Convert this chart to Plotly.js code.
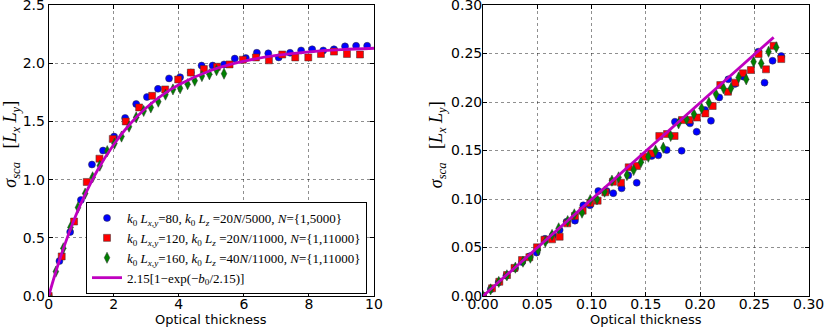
<!DOCTYPE html>
<html>
<head>
<meta charset="utf-8">
<script src="https://cdn.plot.ly/plotly-3.0.1.min.js"></script>
<style>
  body { margin: 0; background: #fff; }
  #plot-container { width: 824px; height: 327px; }
</style>
</head>
<body>
<div id="plot-container"></div>
<script>
// left panel: full range
const blueX = [0, 0.33, 0.66, 0.99, 1.33, 1.67, 2.01, 2.35, 2.69, 3.02, 3.36, 3.70, 4.04, 4.37, 4.70, 5.04, 5.39, 5.72, 6.06, 6.40, 6.75, 7.07, 7.42, 7.76, 8.10, 8.44, 8.77, 9.11, 9.45, 9.79];
const blueY = [0, 0.30, 0.55, 0.825, 1.13, 1.25, 1.37, 1.53, 1.65, 1.71, 1.78, 1.87, 1.88, 1.92, 1.98, 1.98, 1.99, 2.04, 2.045, 2.09, 2.085, 2.05, 2.09, 2.11, 2.12, 2.11, 2.12, 2.145, 2.15, 2.15];

const redX = [0, 0.40, 0.78, 1.17, 1.56, 1.97, 2.37, 2.78, 3.18, 3.58, 3.98, 4.37, 4.77, 5.17, 5.56, 5.97, 6.37, 6.77, 7.18, 7.58, 7.98, 8.37, 8.77, 9.17, 9.57];
const redY = [0, 0.34, 0.64, 0.98, 1.18, 1.35, 1.50, 1.62, 1.72, 1.775, 1.86, 1.92, 1.95, 1.97, 1.99, 2.03, 2.05, 2.025, 2.075, 2.05, 2.05, 2.08, 2.10, 2.08, 2.075];

const greenX = [0, 0.22, 0.45, 0.67, 0.90, 1.12, 1.35, 1.57, 1.80, 2.02, 2.24, 2.47, 2.69, 2.92, 3.14, 3.37, 3.59, 3.82, 4.04, 4.27, 4.49, 4.71, 4.94, 5.16, 5.39];
const greenY = [0, 0.21, 0.41, 0.59, 0.76, 0.88, 1.02, 1.12, 1.245, 1.31, 1.37, 1.455, 1.535, 1.59, 1.62, 1.67, 1.73, 1.775, 1.785, 1.82, 1.85, 1.89, 1.905, 1.94, 1.91];

const fitX = [0, 0.25, 0.5, 0.75, 1, 1.5, 2, 2.5, 3, 3.5, 4, 5, 6, 7, 8, 9, 10];
const fitY = [0, 0.236, 0.446, 0.633, 0.800, 1.080, 1.302, 1.478, 1.617, 1.728, 1.815, 1.940, 2.018, 2.067, 2.098, 2.117, 2.129];

// right panel: zoom on small optical thickness
const blueX2 = [0, 0.0072, 0.0144, 0.0215, 0.0295, 0.036, 0.043, 0.0494, 0.0571, 0.0642, 0.0706, 0.077, 0.0847, 0.0924, 0.0986, 0.1062, 0.1139, 0.12, 0.1277, 0.1339, 0.1416, 0.1554, 0.1615, 0.1692, 0.1768, 0.183, 0.1907, 0.1968, 0.2045, 0.21, 0.2177, 0.226, 0.232, 0.2401, 0.2536, 0.2594, 0.2668, 0.2748];
const blueY2 = [0, 0.007, 0.0143, 0.021, 0.0285, 0.035, 0.041, 0.0447, 0.059, 0.0625, 0.068, 0.0766, 0.0777, 0.0935, 0.0935, 0.1082, 0.1082, 0.106, 0.111, 0.1244, 0.1168, 0.1443, 0.145, 0.1505, 0.1797, 0.1498, 0.178, 0.1694, 0.1918, 0.1807, 0.2048, 0.2234, 0.2186, 0.2261, 0.2519, 0.22, 0.2426, 0.2474];

const redX2 = [0, 0.0083, 0.015, 0.0221, 0.029, 0.0359, 0.0427, 0.0497, 0.0566, 0.0636, 0.0706, 0.0776, 0.0847, 0.0918, 0.0988, 0.1056, 0.1127, 0.1197, 0.1271, 0.1342, 0.1418, 0.148, 0.155, 0.1624, 0.1695, 0.1765, 0.1833, 0.19, 0.197, 0.2048, 0.2116, 0.2186, 0.2257, 0.2324, 0.2395, 0.2468, 0.2539, 0.2607, 0.2677, 0.2748];
const redY2 = [0, 0.0079, 0.0147, 0.0216, 0.029, 0.0371, 0.04, 0.0502, 0.058, 0.0584, 0.0611, 0.0749, 0.0825, 0.088, 0.096, 0.0983, 0.1069, 0.1178, 0.1168, 0.1327, 0.134, 0.1436, 0.147, 0.165, 0.167, 0.165, 0.1814, 0.1814, 0.184, 0.1883, 0.1959, 0.2175, 0.2106, 0.22, 0.2296, 0.233, 0.2495, 0.2337, 0.258, 0.2443];

const greenX2 = [0, 0.007, 0.0145, 0.022, 0.0298, 0.0368, 0.0436, 0.0507, 0.0574, 0.0636, 0.0697, 0.078, 0.0841, 0.0912, 0.0988, 0.105, 0.112, 0.1188, 0.1249, 0.1326, 0.1388, 0.1455, 0.1523, 0.159, 0.1661, 0.1729, 0.1802, 0.1875, 0.1943, 0.2014, 0.2081, 0.2146, 0.2216, 0.2284, 0.2355, 0.2425, 0.2493, 0.2563, 0.2631, 0.2702];
const greenY2 = [0, 0.0068, 0.0145, 0.0213, 0.0292, 0.0354, 0.0395, 0.0474, 0.056, 0.063, 0.0698, 0.0773, 0.0842, 0.0859, 0.099, 0.0997, 0.1076, 0.1189, 0.1223, 0.1247, 0.1299, 0.138, 0.1436, 0.1498, 0.1529, 0.165, 0.178, 0.1822, 0.1876, 0.1935, 0.1993, 0.2082, 0.2141, 0.2141, 0.2254, 0.2234, 0.2416, 0.2399, 0.2519, 0.2564];

const lineX2 = [0, 0.2678];
const lineY2 = [0, 0.2667];

const leftTicksX = [0, 2, 4, 6, 8, 10];
const leftTicksY = [0, 0.5, 1, 1.5, 2, 2.5];
const rightTicks = [0, 0.05, 0.1, 0.15, 0.2, 0.25, 0.3];

const names = [
  "<i>k</i><sub>0</sub> <i>L</i><sub><i>x,y</i></sub>=80, <i>k</i><sub>0</sub> <i>L</i><sub><i>z</i></sub> =20<i>N</i>/5000, <i>N</i>={1,5000}",
  "<i>k</i><sub>0</sub> <i>L</i><sub><i>x,y</i></sub>=120, <i>k</i><sub>0</sub> <i>L</i><sub><i>z</i></sub> =20<i>N</i>/11000, <i>N</i>={1,11000}",
  "<i>k</i><sub>0</sub> <i>L</i><sub><i>x,y</i></sub>=160, <i>k</i><sub>0</sub> <i>L</i><sub><i>z</i></sub> =40<i>N</i>/11000, <i>N</i>={1,11000}",
  "2.15[1\u2212exp(\u2212<i>b</i><sub>0</sub>/2.15)]"
];

const edge = { color: "#333", width: 0.5 };
const styles = [
  { symbol: "circle", size: 7, color: "#0000ff", line: edge },
  { symbol: "square", size: 7, color: "#ff0000", line: edge },
  { symbol: "diamond-tall", size: 8, color: "#008000", line: edge },
];
const magenta = "#bf00bf";

const traces = [];
function addPanel(sets, line, xa, ya, legend) {
  sets.forEach(([x, y], i) => {
    traces.push({
      x: x, y: y, xaxis: xa, yaxis: ya,
      mode: "markers", type: "scatter",
      name: names[i], showlegend: legend,
      marker: styles[i],
    });
  });
  traces.push({
    x: line[0], y: line[1], xaxis: xa, yaxis: ya,
    mode: "lines", type: "scatter",
    name: names[3], showlegend: legend,
    line: { color: magenta, width: 2.8, shape: "spline" },
  });
}

addPanel([[blueX, blueY], [redX, redY], [greenX, greenY]], [fitX, fitY], "x", "y", true);
addPanel([[blueX2, blueY2], [redX2, redY2], [greenX2, greenY2]], [lineX2, lineY2], "x2", "y2", false);

const tickFont = { family: "DejaVu Sans", size: 14, color: "#000" };
const yTitle = "<i>σ</i><sub><i>sca</i></sub>   [<i>L</i><sub><i>x</i></sub> <i>L</i><sub><i>y</i></sub>]";

function axis(extra) {
  return Object.assign({
    showline: true, linecolor: "#000", linewidth: 1, mirror: "allticks",
    ticks: "inside", ticklen: 4, tickcolor: "#000",
    showgrid: true, gridcolor: "rgba(0,0,0,0.55)", griddash: "dot", gridwidth: 0.8,
    zeroline: false, tickfont: tickFont, automargin: false,
    ticklabeloverflow: "allow",
  }, extra);
}

// axis titles as annotations so they sit where the reference has them
function title(text, x, y, angle, font) {
  return {
    text: text, x: x, y: y, xref: "paper", yref: "paper",
    xanchor: "center", yanchor: "middle", showarrow: false, textangle: angle,
    font: font,
  };
}
const xtFont = { family: "DejaVu Sans", size: 13, color: "#000" };
const ytFont = { family: "Liberation Serif", size: 18, color: "#000" };

const layout = {
  width: 824, height: 327,
  paper_bgcolor: "#fff", plot_bgcolor: "#fff",
  margin: { l: 0, r: 0, t: 5, b: 31 },
  xaxis: axis({
    domain: [0.0591, 0.4539], range: [0, 10.001], tickvals: leftTicksX,
    ticklabelstandoff: -5,
  }),
  yaxis: axis({
    domain: [0, 1], range: [0, 2.5005], tickvals: leftTicksY, tickformat: ".1f",
  }),
  xaxis2: axis({
    domain: [0.5862, 0.9814], range: [0, 0.30005], anchor: "y2",
    tickvals: rightTicks, tickformat: ".2f", ticklabelstandoff: -5,
  }),
  yaxis2: axis({
    domain: [0, 1], range: [0, 0.30005], anchor: "x2",
    tickvals: rightTicks, tickformat: ".2f", ticklabelstandoff: -3,
  }),
  annotations: [
    title("Optical thickness", 0.256, -0.082, 0, xtFont),
    title("Optical thickness", 0.784, -0.082, 0, xtFont),
    title(yTitle, 0.0146, 0.52, -90, ytFont),
    title(yTitle, 0.531, 0.52, -90, ytFont),
  ],
  legend: {
    x: 0.1044, y: 0.323, xanchor: "left", yanchor: "top",
    bgcolor: "#fff", bordercolor: "#000", borderwidth: 1,
    font: { family: "Liberation Serif", size: 13, color: "#000" },
    tracegroupgap: 0,
  },
  showlegend: true,
};

Plotly.newPlot("plot-container", traces, layout, { displayModeBar: false, staticPlot: true });
</script>
</body>
</html>
